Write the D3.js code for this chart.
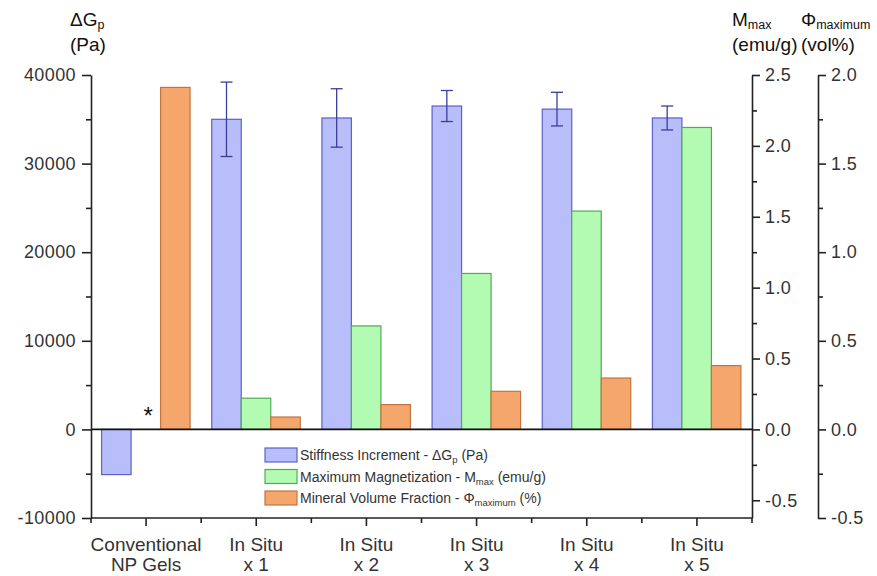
<!DOCTYPE html>
<html><head><meta charset="utf-8">
<script src="https://cdn.jsdelivr.net/npm/d3@7/dist/d3.min.js"></script>
<style>body{margin:0;background:#fff}svg{font-family:Arial,"Liberation Sans",sans-serif}</style>
</head><body><svg id="c" width="877" height="576"></svg>
<script>
const categories = ["Conventional|NP Gels","In Situ|x 1","In Situ|x 2","In Situ|x 3","In Situ|x 4","In Situ|x 5"];
const stiffness = [-5100, 35000, 35150, 36500, 36150, 35150];
const stiffnessErr = [null, 4200, 3300, 1750, 1900, 1350];
const magnetization = [null, 0.22, 0.73, 1.10, 1.54, 2.13];
const volumeFraction = [1.93, 0.07, 0.14, 0.215, 0.29, 0.36];
const leftTicks = [-10000, 0, 10000, 20000, 30000, 40000];
const mTicks = [-0.5, 0.0, 0.5, 1.0, 1.5, 2.0, 2.5];
const phiTicks = [-0.5, 0.0, 0.5, 1.0, 1.5, 2.0];

const svg = d3.select("#c");
const X0 = 91, X1 = 752, Y0 = 518, Ytop = 75;
const x = d3.scaleBand().domain(categories).range([X0, X1]);
const yG = d3.scaleLinear().domain([-10000, 40000]).range([Y0, Ytop]);
const yM = d3.scaleLinear().domain([-0.625, 2.5]).range([Y0, Ytop]);
const yP = d3.scaleLinear().domain([-0.5, 2.0]).range([Y0, Ytop]);
const loc = d3.formatLocale({decimal: ".", thousands: "", grouping: [3], currency: ["", ""], minus: "-"});
const bw = 29.5;
const col = {
  blue: {fill: "#b7bef9", stroke: "#5c62c9"},
  green: {fill: "#b3fbb3", stroke: "#55a955"},
  orange: {fill: "#f4a66c", stroke: "#c27540"}
};
const cx = c => x(c) + x.bandwidth()/2;

function barRect(g, vals, scale, offset, c) {
  g.selectAll(null).data(categories.map((k,i)=>({k, v: vals[i]})).filter(d=>d.v!=null))
    .enter().append("rect")
    .attr("x", d => cx(d.k) + offset)
    .attr("width", bw)
    .attr("y", d => Math.min(scale(d.v), scale(0)))
    .attr("height", d => Math.abs(scale(d.v) - scale(0)))
    .attr("fill", c.fill).attr("stroke", c.stroke).attr("stroke-width", 1.2);
}
const gb = svg.append("g");
barRect(gb, stiffness, yG, -44.5, col.blue);
barRect(gb, magnetization, yM, -15, col.green);
barRect(gb, volumeFraction, yP, 14.5, col.orange);

const ge = svg.append("g").attr("stroke", "#3a3f9a").attr("stroke-width", 1.3);
categories.forEach((k,i) => {
  if (stiffnessErr[i] == null) return;
  const xc = cx(k) - 44.5 + bw/2;
  const t = yG(stiffness[i] + stiffnessErr[i]), b = yG(stiffness[i] - stiffnessErr[i]);
  ge.append("line").attr("x1", xc).attr("x2", xc).attr("y1", t).attr("y2", b);
  ge.append("line").attr("x1", xc-6).attr("x2", xc+6).attr("y1", t).attr("y2", t);
  ge.append("line").attr("x1", xc-6).attr("x2", xc+6).attr("y1", b).attr("y2", b);
});

svg.append("text").attr("x", cx(categories[0]) + 2).attr("y", 424).attr("text-anchor","middle")
  .attr("font-size", 24).attr("fill", "#111").text("*");

svg.append("line").attr("x1", X0).attr("x2", X1).attr("y1", yG(0)).attr("y2", yG(0))
  .attr("stroke", "#111").attr("stroke-width", 1.6);

const axisColor = "#222", labColor = "#333";
function styleAxis(g) {
  g.selectAll("path,line").attr("stroke", axisColor).attr("stroke-width", 1.6);
  g.selectAll("text").attr("fill", labColor).attr("font-size", 18).attr("letter-spacing", 0.4);
}
const gl = svg.append("g").attr("transform", `translate(${X0},0)`);
gl.call(d3.axisLeft(yG).tickValues(leftTicks).tickSize(9).tickSizeOuter(0).tickPadding(6).tickFormat(loc.format("d")));
gl.append("g").call(d3.axisLeft(yG).tickValues(d3.range(-5000, 40000, 10000)).tickSize(5).tickFormat(""))
  .select(".domain").remove();
styleAxis(gl);

const gm = svg.append("g").attr("transform", `translate(${X1},0)`);
gm.call(d3.axisRight(yM).tickValues(mTicks).tickSize(8).tickSizeOuter(0).tickPadding(5).tickFormat(loc.format(".1f")));
gm.append("g").call(d3.axisRight(yM).tickValues(d3.range(-0.25, 2.5, 0.5)).tickSize(5).tickFormat(""))
  .select(".domain").remove();
styleAxis(gm);

const gp = svg.append("g").attr("transform", `translate(818,0)`);
gp.call(d3.axisRight(yP).tickValues(phiTicks).tickSize(8).tickSizeOuter(0).tickPadding(5).tickFormat(loc.format(".1f")));
gp.append("g").call(d3.axisRight(yP).tickValues(d3.range(-0.25, 2.0, 0.5)).tickSize(5).tickFormat(""))
  .select(".domain").remove();
styleAxis(gp);

const gx = svg.append("g").attr("transform", `translate(0,${Y0})`);
gx.append("line").attr("x1", X0).attr("x2", X1).attr("stroke", axisColor).attr("stroke-width", 1.6);
categories.forEach((k,i) => {
  gx.append("line").attr("x1", cx(k)).attr("x2", cx(k)).attr("y1", 0).attr("y2", 8).attr("stroke", axisColor).attr("stroke-width", 1.6);
  const bx = x(k);
  gx.append("line").attr("x1", bx).attr("x2", bx).attr("y1", 0).attr("y2", 5).attr("stroke", axisColor).attr("stroke-width", 1.6);
  const parts = k.split("|");
  gx.append("text").attr("x", cx(k)).attr("y", 33).attr("text-anchor","middle").attr("font-size", 19).attr("fill", labColor).text(parts[0]);
  gx.append("text").attr("x", cx(k)).attr("y", 53).attr("text-anchor","middle").attr("font-size", 19).attr("fill", labColor).text(parts[1]);
});
gx.append("line").attr("x1", X1).attr("x2", X1).attr("y1", 0).attr("y2", 5).attr("stroke", axisColor).attr("stroke-width", 1.6);

function title(xp, main, sub, unit) {
  const t = svg.append("text").attr("x", xp).attr("y", 26).attr("font-size", 19).attr("fill", "#111");
  t.append("tspan").text(main);
  t.append("tspan").attr("font-size", 12.5).attr("dy", 3).text(sub);
  svg.append("text").attr("x", xp).attr("y", 51).attr("font-size", 19).attr("fill", "#111").text(unit);
}
title(70, "ΔG", "p", "(Pa)");
title(732, "M", "max", "(emu/g)");
title(801, "Φ", "maximum", "(vol%)");

const legend = [
  {c: col.blue, main: "Stiffness Increment - ΔG", sub: "p", tail: " (Pa)"},
  {c: col.green, main: "Maximum Magnetization - M", sub: "max", tail: " (emu/g)"},
  {c: col.orange, main: "Mineral Volume Fraction - Φ", sub: "maximum", tail: " (%)"}
];
const gL = svg.append("g").attr("transform", "translate(265,448)");
legend.forEach((d,i) => {
  const r = gL.append("g").attr("transform", `translate(0,${i*21.5})`);
  r.append("rect").attr("width", 32).attr("height", 14).attr("fill", d.c.fill).attr("stroke", d.c.stroke).attr("stroke-width", 1.2);
  const t = r.append("text").attr("x", 35).attr("y", 12).attr("font-size", 14).attr("fill", "#333");
  t.append("tspan").text(d.main);
  t.append("tspan").attr("font-size", 9.5).attr("dy", 3).text(d.sub);
  t.append("tspan").attr("dy", -3).text(d.tail);
});
</script></body></html>
